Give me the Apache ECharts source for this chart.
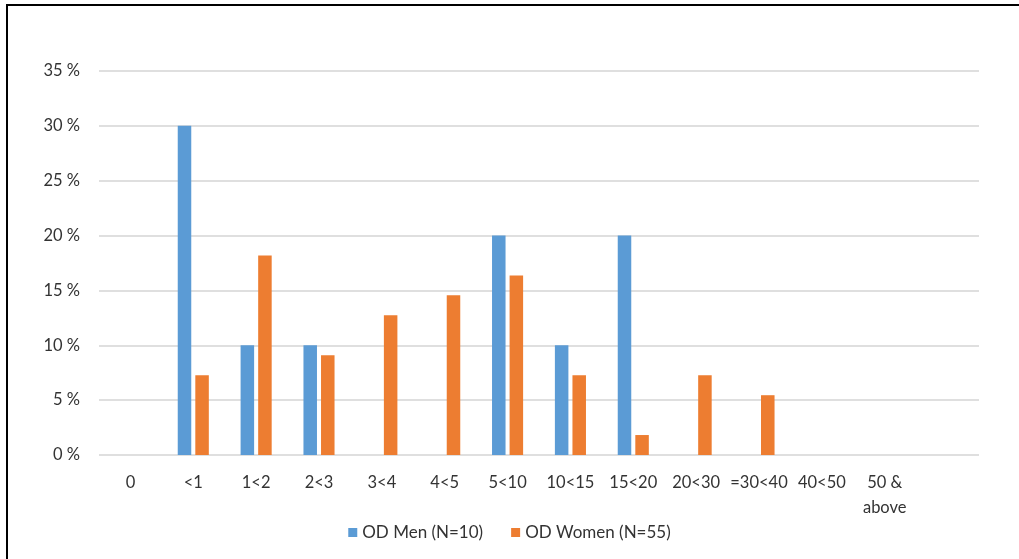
<!DOCTYPE html>
<html lang="en">
<head>
    <meta charset="UTF-8">
    <title>OD distribution</title>
    <script src="https://cdn.jsdelivr.net/npm/echarts@6/dist/echarts.min.js"></script>
    <style>
        html, body {
            margin: 0;
            padding: 0;
            background: #fff;
        }
    </style>
</head>
<body>
<div id="main" style="width: 1019px; height: 559px;"></div>
<script type="application/javascript">
    // categories (last one is an empty slot, as in the original)
    var categories = ['0', '<1', '1<2', '2<3', '3<4', '4<5', '5<10', '10<15', '15<20', '20<30', '=30<40', '40<50', '50 &\nabove', ''];
    var menValues = [0, 30, 10, 10, 0, 0, 20, 10, 20, 0, 0, 0, 0, null];
    var womenValues = [0, 7.27, 18.18, 9.09, 12.73, 14.55, 16.36, 7.27, 1.82, 7.27, 5.45, 0, 0, null];
    var seriesNames = ['OD Men (N=10)', 'OD Women (N=55)'];

    var myChart = echarts.init(document.getElementById('main'));
    var font = 'Lato, "Open Sans", sans-serif';

    option = {
        animation: false,
        textStyle: {fontFamily: font},
        graphic: [{
            type: 'polyline',
            shape: {points: [[7, 559], [7, 5], [1019, 5]]},
            style: {stroke: '#000', lineWidth: 2, fill: null}
        }],
        legend: {
            bottom: 13,
            left: 'center',
            itemWidth: 9,
            itemHeight: 9,
            itemGap: 28,
            icon: 'rect',
            textStyle: {fontSize: 17, color: '#333', fontFamily: font},
            data: seriesNames
        },
        grid: {
            left: 99,
            right: 40,
            top: 71,
            bottom: 104,
            containLabel: false
        },
        xAxis: {
            type: 'category',
            data: categories,
            axisLine: {show: false},
            axisTick: {show: false},
            axisLabel: {
                interval: 0,
                margin: 15,
                fontSize: 16.5,
                lineHeight: 25,
                color: '#333',
                fontFamily: font
            }
        },
        yAxis: {
            type: 'value',
            min: 0,
            max: 35,
            interval: 5,
            axisLine: {show: false},
            axisTick: {show: false},
            axisLabel: {
                formatter: '{value} %',
                margin: 19,
                fontSize: 16.5,
                color: '#333',
                fontFamily: font
            },
            splitLine: {lineStyle: {color: '#d4d4d4', width: 1.5}}
        },
        series: [
            {
                name: seriesNames[0],
                type: 'bar',
                data: menValues,
                barWidth: '21.5%',
                barGap: '30%',
                itemStyle: {color: '#5B9BD5'}
            },
            {
                name: seriesNames[1],
                type: 'bar',
                data: womenValues,
                barWidth: '21.5%',
                itemStyle: {color: '#ED7D31'}
            }
        ]
    };

    myChart.setOption(option);
</script>
</body>
</html>
